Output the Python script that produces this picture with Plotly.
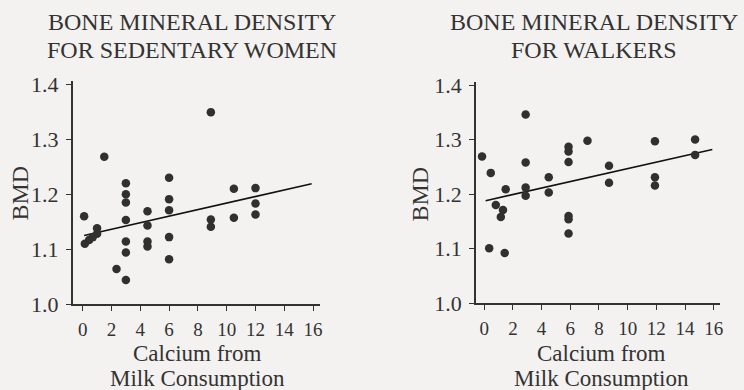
import plotly.graph_objects as go

# ---- data ----
sed_x = [0.1, 0.15, 0.45, 0.7, 1.0, 1.0, 1.5, 2.35, 3.0, 3.0, 3.0, 3.0, 3.0, 3.0, 3.0,
         4.5, 4.5, 4.5, 4.5, 6.0, 6.0, 6.0, 6.0, 6.0, 8.9, 8.9, 8.9, 10.5, 10.5, 12.0, 12.0, 12.0]
sed_y = [1.16, 1.11, 1.117, 1.122, 1.138, 1.128, 1.268, 1.064, 1.044, 1.22, 1.20, 1.185, 1.153, 1.114, 1.094,
         1.169, 1.143, 1.114, 1.105, 1.23, 1.191, 1.171, 1.122, 1.082, 1.349, 1.154, 1.141, 1.21, 1.157, 1.211, 1.183, 1.163]

walk_x = [-0.15, 0.35, 0.46, 0.81, 1.16, 1.31, 1.43, 1.5, 2.89, 2.89, 2.89, 2.89, 4.5, 4.5,
          5.88, 5.88, 5.88, 5.88, 5.88, 5.88, 7.2, 8.7, 8.7, 11.9, 11.9, 11.9, 14.7, 14.7]
walk_y = [1.269, 1.101, 1.239, 1.18, 1.158, 1.171, 1.092, 1.209, 1.346, 1.258, 1.212, 1.197, 1.231, 1.203,
          1.287, 1.278, 1.259, 1.16, 1.154, 1.128, 1.298, 1.252, 1.221, 1.297, 1.231, 1.216, 1.30, 1.272]

sed_fit_x = [0.1, 15.9]
sed_fit_y = [1.125, 1.219]
walk_fit_x = [0.1, 15.9]
walk_fit_y = [1.188, 1.282]

x_ticks = [0, 2, 4, 6, 8, 10, 12, 14, 16]
y_ticks = [1.0, 1.1, 1.2, 1.3, 1.4]
y_tick_text = ["1.0", "1.1", "1.2", "1.3", "1.4"]

title_line1 = "BONE MINERAL DENSITY"
title_line2 = ["FOR SEDENTARY WOMEN", "FOR WALKERS"]
x_title_lines = ["Calcium from", "Milk Consumption"]
y_title = "BMD"

# ---- style ----
W, H = 744, 390
BG = "#f3f2f0"
INK = "#333333"
DOT = "#303030"
FONT = "Liberation Serif, Times New Roman, serif"

fig = go.Figure()

for i, (xs, ys, fx, fy) in enumerate([(sed_x, sed_y, sed_fit_x, sed_fit_y),
                                      (walk_x, walk_y, walk_fit_x, walk_fit_y)]):
    xa = "x" if i == 0 else "x2"
    ya = "y" if i == 0 else "y2"
    fig.add_trace(go.Scatter(x=fx, y=fy, mode="lines", xaxis=xa, yaxis=ya,
                             line=dict(color="#111111", width=1.6), showlegend=False,
                             hoverinfo="skip"))
    fig.add_trace(go.Scatter(x=xs, y=ys, mode="markers", xaxis=xa, yaxis=ya,
                             marker=dict(color=DOT, size=8.5), showlegend=False))

def px_x(p):
    return p / W

def px_y(p):
    return 1 - p / H

axis_common = dict(showgrid=False, zeroline=False, showline=True, linecolor=INK, linewidth=1.6,
                   ticks="outside", ticklen=5, tickcolor=INK, tickwidth=1.2, automargin=False)
xtf = dict(size=19, family=FONT, color=INK)
ytf = dict(size=22, family=FONT, color=INK)

fig.update_layout(
    width=W, height=H, autosize=False, margin=dict(l=0, r=0, t=0, b=0, pad=0),
    paper_bgcolor=BG, plot_bgcolor=BG,
    font=dict(family=FONT, color=INK),
    xaxis=dict(domain=[px_x(72.6), px_x(320.3)], range=[-0.7, 16.5], anchor="y",
               tickvals=x_ticks, tickfont=xtf, ticklabelstandoff=2, **axis_common),
    yaxis=dict(domain=[px_y(304.3), px_y(81.3)], range=[1.0, 1.405], anchor="x",
               tickvals=y_ticks, ticktext=y_tick_text, tickfont=ytf, ticklabelstandoff=3,
               **axis_common),
    xaxis2=dict(domain=[px_x(476), px_x(719.5)], range=[-0.57, 16.4], anchor="y2",
                tickvals=x_ticks, tickfont=xtf, ticklabelstandoff=2, **axis_common),
    yaxis2=dict(domain=[px_y(303.3), px_y(82.3)], range=[1.0, 1.405], anchor="x2",
                tickvals=y_ticks, ticktext=y_tick_text, tickfont=ytf, ticklabelstandoff=3,
                **axis_common),
)

anns = []

def text_at(cx, cy, t, size, angle=0):
    anns.append(dict(x=px_x(cx), y=px_y(cy), xref="paper", yref="paper", text=t,
                     showarrow=False, xanchor="center", yanchor="middle", textangle=angle,
                     font=dict(size=size, family=FONT, color=INK)))

# titles
for cx, l2 in [(192, title_line2[0]), (594, title_line2[1])]:
    text_at(cx, 22, title_line1, 24)
    text_at(cx, 50, l2, 24)
# x axis titles
for cx in [197, 601]:
    text_at(cx, 353, x_title_lines[0], 23)
    text_at(cx, 378, x_title_lines[1], 23)
# y axis titles
for cx, cy in [(19.5, 193), (419.5, 194)]:
    text_at(cx, cy, y_title, 24, -90)

fig.update_layout(annotations=anns)

fig.write_html("out.html", config={"displayModeBar": False},
               post_script="document.body.style.margin='0';document.body.style.overflow='hidden';"
                           "document.body.style.background='" + BG + "';")
